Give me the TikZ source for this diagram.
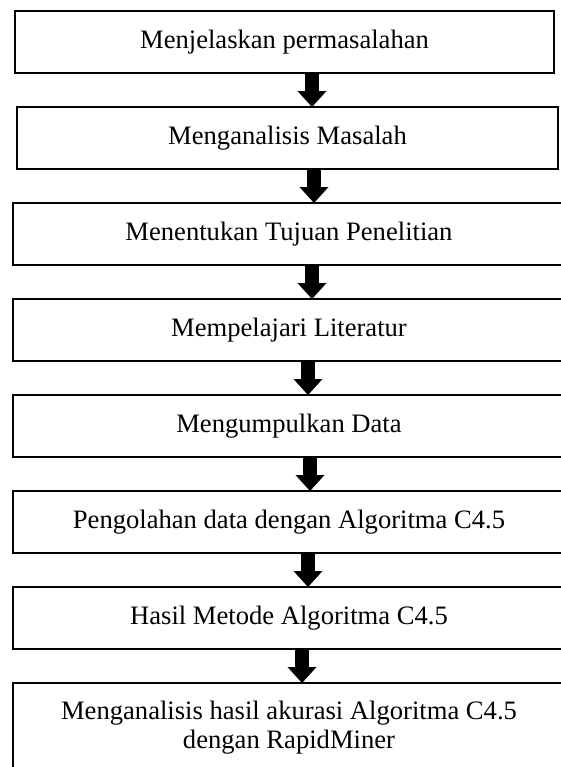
\documentclass[tikz,border=0pt]{standalone}
\usepackage{fontspec}
\setmainfont{Liberation Serif}
\usetikzlibrary{arrows.meta, positioning}

\begin{document}
\begin{tikzpicture}[x=0.5pt, y=-0.5pt,
						node distance=17pt,
						box/.style={draw, rectangle, line width=1.3pt, outer sep=0pt, inner sep=2pt, minimum height=31pt, align=center, font=\fontsize{13.3}{14.5}\selectfont},
						fatarrow/.style={draw, line width=7pt, -{Triangle[width=14.5pt, length=8pt, line width=0pt]}},]
		\useasboundingbox (0,0) rectangle (561,767);
		\node (explain) [box, minimum width=269.5pt] at (284.5,42) {Menjelaskan permasalahan};
		\node (analyze) [box, minimum width=270.5pt, below=of explain, xshift=1.5pt] {Menganalisis Masalah};
		\node (goal) [box, minimum width=276pt, below=of analyze, xshift=0.75pt] {Menentukan Tujuan Penelitian};
		\node (lit) [box, minimum width=276pt, below=of goal] {Mempelajari Literatur};
		\node (collect) [box, minimum width=276pt, below=of lit] {Mengumpulkan Data};
		\node (process) [box, minimum width=276pt, below=of collect] {Pengolahan data dengan Algoritma C4.5};
		\node (result) [box, minimum width=276pt, below=of process] {Hasil Metode Algoritma C4.5};
		\node (accuracy) [box, minimum width=276pt, minimum height=44.5pt, below=of result] {Menganalisis hasil akurasi Algoritma C4.5\\dengan RapidMiner};

		\foreach \from/\to/\ax in {explain/analyze/312, analyze/goal/314, goal/lit/312, lit/collect/308, collect/process/310, process/result/308, result/accuracy/302}
			\draw[fatarrow] (\from.south -| \ax,0) -- (\to.north -| \ax,0);
	\end{tikzpicture}
\end{document}
